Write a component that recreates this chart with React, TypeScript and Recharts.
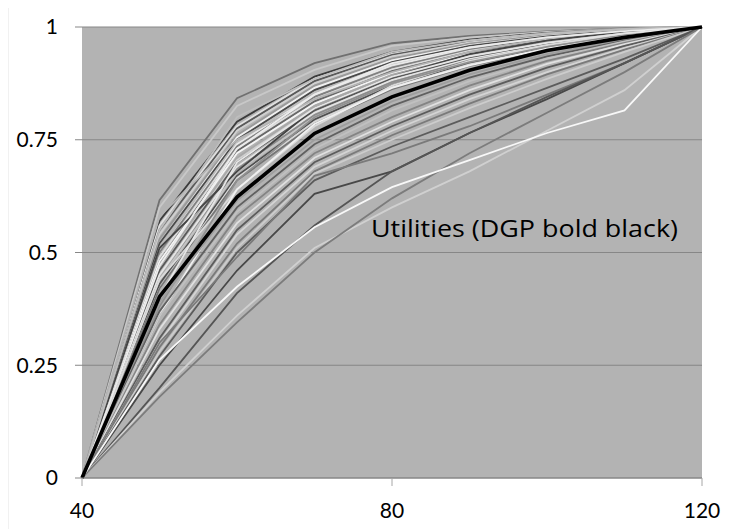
import React from "react";
import { LineChart, Line, XAxis, YAxis, CartesianGrid } from "recharts";

// Price points on the horizontal axis
const prices = [40, 50, 60, 70, 80, 90, 100, 110, 120];

// Axis tick values
const yTicks = [0, 0.25, 0.5, 0.75, 1];
const xTicks = [40, 80, 120];

// Estimated utility curves, one per respondent (values at each price point)
const utilityCurves: number[][] = [
  [0, 0.616, 0.842, 0.92, 0.964, 0.98, 0.99, 0.997, 1],
  [0, 0.6, 0.825, 0.905, 0.958, 0.977, 0.989, 0.996, 1],
  [0, 0.57, 0.79, 0.89, 0.945, 0.972, 0.987, 0.995, 1],
  [0, 0.56, 0.78, 0.885, 0.94, 0.97, 0.986, 0.995, 1],
  [0, 0.55, 0.775, 0.88, 0.938, 0.968, 0.985, 0.994, 1],
  [0, 0.54, 0.77, 0.875, 0.935, 0.966, 0.984, 0.994, 1],
  [0, 0.53, 0.76, 0.87, 0.93, 0.963, 0.982, 0.993, 1],
  [0, 0.52, 0.755, 0.865, 0.926, 0.96, 0.98, 0.993, 1],
  [0, 0.52, 0.75, 0.86, 0.922, 0.958, 0.979, 0.992, 1],
  [0, 0.51, 0.745, 0.855, 0.918, 0.955, 0.977, 0.991, 1],
  [0, 0.5, 0.74, 0.85, 0.915, 0.952, 0.975, 0.99, 1],
  [0, 0.5, 0.735, 0.845, 0.91, 0.95, 0.974, 0.99, 1],
  [0, 0.49, 0.73, 0.84, 0.906, 0.947, 0.972, 0.989, 1],
  [0, 0.48, 0.725, 0.835, 0.902, 0.944, 0.97, 0.988, 1],
  [0, 0.48, 0.72, 0.83, 0.898, 0.941, 0.968, 0.987, 1],
  [0, 0.47, 0.71, 0.825, 0.894, 0.938, 0.966, 0.986, 1],
  [0, 0.46, 0.705, 0.82, 0.89, 0.935, 0.964, 0.985, 1],
  [0, 0.46, 0.7, 0.815, 0.886, 0.932, 0.962, 0.984, 1],
  [0, 0.45, 0.69, 0.81, 0.882, 0.929, 0.96, 0.983, 1],
  [0, 0.44, 0.685, 0.805, 0.878, 0.926, 0.958, 0.982, 1],
  [0, 0.44, 0.68, 0.8, 0.874, 0.923, 0.956, 0.981, 1],
  [0, 0.43, 0.67, 0.795, 0.87, 0.92, 0.954, 0.98, 1],
  [0, 0.42, 0.665, 0.79, 0.866, 0.917, 0.952, 0.979, 1],
  [0, 0.42, 0.66, 0.785, 0.862, 0.914, 0.95, 0.978, 1],
  [0, 0.58, 0.75, 0.84, 0.9, 0.945, 0.975, 0.992, 1],
  [0, 0.51, 0.68, 0.82, 0.89, 0.94, 0.97, 0.99, 1],
  [0, 0.44, 0.64, 0.78, 0.87, 0.925, 0.96, 0.985, 1],
  [0, 0.38, 0.66, 0.8, 0.875, 0.922, 0.956, 0.982, 1],
  [0, 0.36, 0.64, 0.785, 0.865, 0.915, 0.952, 0.979, 1],
  [0, 0.55, 0.8, 0.885, 0.945, 0.97, 0.986, 0.995, 1],
  [0, 0.47, 0.73, 0.85, 0.92, 0.955, 0.977, 0.991, 1],
  [0, 0.4, 0.7, 0.82, 0.89, 0.935, 0.965, 0.986, 1],
  [0, 0.39, 0.615, 0.75, 0.835, 0.895, 0.94, 0.973, 1],
  [0, 0.37, 0.6, 0.74, 0.825, 0.888, 0.935, 0.97, 1],
  [0, 0.36, 0.59, 0.73, 0.815, 0.88, 0.93, 0.968, 1],
  [0, 0.34, 0.58, 0.72, 0.8, 0.87, 0.925, 0.965, 1],
  [0, 0.33, 0.565, 0.71, 0.79, 0.86, 0.918, 0.962, 1],
  [0, 0.31, 0.55, 0.7, 0.78, 0.85, 0.91, 0.958, 1],
  [0, 0.3, 0.54, 0.69, 0.77, 0.84, 0.9, 0.953, 1],
  [0, 0.29, 0.52, 0.68, 0.76, 0.83, 0.895, 0.95, 1],
  [0, 0.28, 0.51, 0.675, 0.75, 0.82, 0.885, 0.945, 1],
  [0, 0.27, 0.5, 0.66, 0.735, 0.8, 0.865, 0.93, 1],
  [0, 0.3, 0.49, 0.67, 0.72, 0.78, 0.85, 0.92, 1],
  [0, 0.25, 0.46, 0.63, 0.68, 0.765, 0.84, 0.92, 1],
  [0, 0.2, 0.41, 0.56, 0.68, 0.765, 0.845, 0.92, 1],
  [0, 0.19, 0.36, 0.51, 0.6, 0.68, 0.77, 0.86, 1],
  [0, 0.18, 0.345, 0.5, 0.62, 0.72, 0.81, 0.9, 1],
  [0, 0.262, 0.424, 0.556, 0.645, 0.705, 0.765, 0.815, 1],
];

// Grey shade for each utility curve
const curveColors = [
  "#707070", "#c8c8c8", "#3c3c3c", "#e0e0e0", "#5a5a5a", "#d0d0d0",
  "#9a9a9a", "#f0f0f0", "#4a4a4a", "#bcbcbc", "#e8e8e8", "#808080",
  "#dcdcdc", "#686868", "#f4f4f4", "#a8a8a8", "#cfcfcf", "#585858",
  "#e4e4e4", "#8c8c8c", "#c4c4c4", "#505050", "#d8d8d8", "#767676",
  "#b4b4b4", "#444444", "#dadada", "#909090", "#f0f0f0", "#bdbdbd",
  "#ececec", "#e6e6e6", "#9e9e9e", "#606060", "#c0c0c0", "#848484",
  "#e0e0e0", "#5c5c5c", "#d4d4d4", "#7a7a7a", "#cccccc", "#5c5c5c",
  "#7a7a7a", "#484848", "#555555", "#d0d0d0", "#7c7c7c", "#f8f8f8",
];

// Data-generating process curve, drawn bold black on top
const dgpCurve = [0, 0.402, 0.623, 0.764, 0.845, 0.904, 0.948, 0.977, 1];

const rows = prices.map((price, i) => {
  const row: Record<string, number> = { price };
  utilityCurves.forEach((curve, j) => {
    row["u" + j] = curve[i];
  });
  row.dgp = dgpCurve[i];
  return row;
});

const font = "Lato, 'Open Sans', sans-serif";

export default function App() {
  return (
    <div style={{ position: "relative", margin: "-8px 0 0 -8px", width: 732, height: 529, overflow: "hidden", background: "#fff" }}>
      <div style={{ position: "absolute", left: 0, top: 0 }}>
        <LineChart width={732} height={529} data={rows} margin={{ top: 27, right: 30, bottom: 21, left: 0 }}>
          {/* chart-area frame */}
          <rect x={7.5} y={5.5} width={740} height={540} fill="none" stroke="#c8c8c8" strokeWidth={1.5} />
          <CartesianGrid vertical={false} stroke="#878787" fill="#b3b3b3" />
          <XAxis
            dataKey="price"
            type="number"
            domain={[40, 120]}
            ticks={xTicks}
            height={30}
            tickSize={8}
            tickMargin={17}
            axisLine={{ stroke: "#878787" }}
            tickLine={{ stroke: "#a6a6a6" }}
            tick={{ fill: "#000", fontSize: 21, fontFamily: font }}
          />
          <YAxis
            type="number"
            domain={[0, 1]}
            ticks={yTicks}
            width={82}
            tickSize={7}
            tickMargin={17}
            axisLine={false}
            tickLine={{ stroke: "#878787" }}
            tick={{ fill: "#000", fontSize: 21, fontFamily: font }}
          />
          {utilityCurves.map((_, j) => (
            <Line
              key={j}
              dataKey={"u" + j}
              type="linear"
              stroke={curveColors[j]}
              strokeWidth={1.8}
              dot={false}
              activeDot={false}
              isAnimationActive={false}
            />
          ))}
          <Line
            dataKey="dgp"
            type="linear"
            stroke="#000"
            strokeWidth={3.6}
            dot={false}
            activeDot={false}
            isAnimationActive={false}
          />
        </LineChart>
      </div>
      <svg width={732} height={529} style={{ position: "absolute", left: 0, top: 0, pointerEvents: "none" }}>
        <text
          x={371}
          y={237}
          fontSize={23}
          fontFamily="'Open Sans', sans-serif"
          fill="#000"
          textLength={307}
          lengthAdjust="spacingAndGlyphs"
        >
          Utilities (DGP bold black)
        </text>
      </svg>
    </div>
  );
}
